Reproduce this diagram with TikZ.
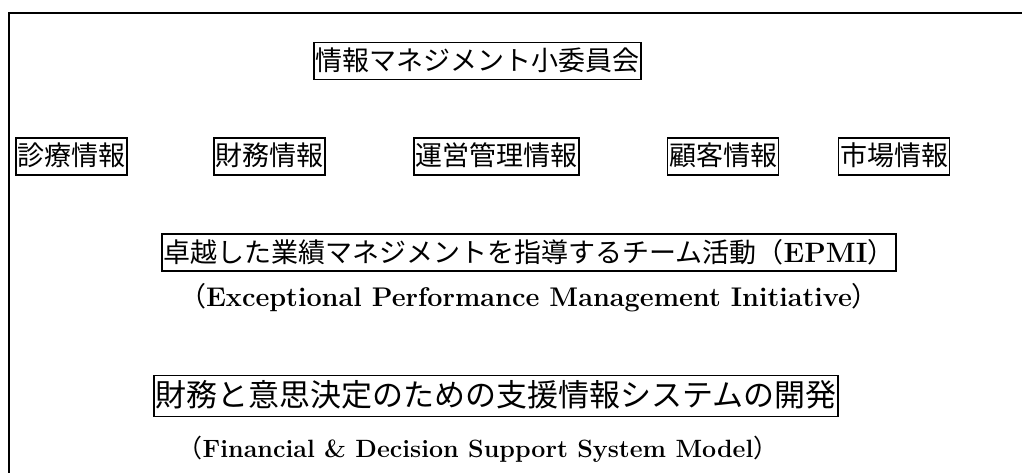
\documentclass[tikz,border=0pt]{standalone}
\usepackage{fontspec}
\newfontfamily\jp{Noto Sans CJK JP}
\newcommand\jparen[1]{{\jp\mdseries #1}}
\begin{document}
\begin{tikzpicture}[x=1pt,y=-1pt,
  jbox/.style={draw, line width=1.1pt, inner xsep=1.5pt, inner ysep=5pt,
    font=\jp\fontsize{27}{30}\selectfont, text height=23pt, text depth=4pt},
  jboxbig/.style={jbox, font=\jp\fontsize{31}{34}\selectfont, text height=26pt, text depth=5pt},
  eng/.style={inner sep=0pt, font=\rmfamily\bfseries\fontsize{27}{30}\selectfont},
  engsmall/.style={eng, font=\rmfamily\bfseries\fontsize{25}{28}\selectfont},
  frameline/.style={line width=2pt}]
\useasboundingbox (0,0) rectangle (1022,473);
\coordinate (fbl) at (9,473);
\coordinate (ftl) at (9,13);
\coordinate (ftr) at (1022,13);
\draw[frameline] (fbl) -- (ftl) -- (ftr);
\node[jbox] (top) at (477.5,61) {情報マネジメント小委員会};
\node[jbox] (shinryo) at (71.5,156.5) {診療情報};
\node[jbox] (zaimu) at (269.5,156.5) {財務情報};
\node[jbox] (unei) at (496.5,156.5) {運営管理情報};
\node[jbox] (kokyaku) at (723,156.5) {顧客情報};
\node[jbox] (shijo) at (894,156.5) {市場情報};
\node[jbox] (epmi) at (529,252.5) {卓越した業績マネジメントを指導するチーム活動（{\rmfamily\bfseries\fontsize{28}{30}\selectfont EPMI}）\hspace{16pt}};
\node[eng] (epmien) at (529,298) {\jparen{（}Exceptional Performance Management Initiative\jparen{）}};
\node[jboxbig] (fdss) at (496,396) {財務と意思決定のための支援情報システムの開発};
\node[engsmall] (fdssen) at (478,449) {\jparen{（}Financial \& Decision Support System Model\jparen{）}};
\end{tikzpicture}
\end{document}
